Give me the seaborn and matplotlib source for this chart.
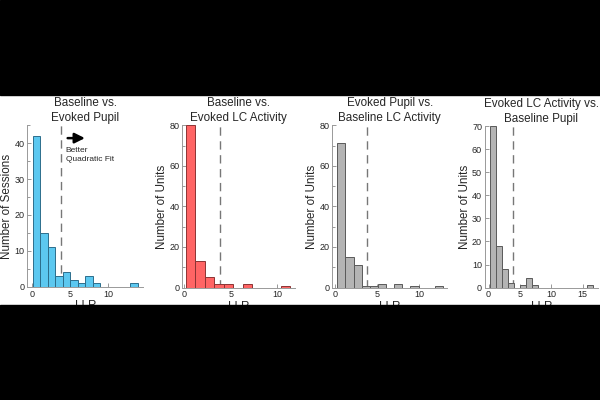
import numpy as np
import pandas as pd
import seaborn as sns
import matplotlib.pyplot as plt
from matplotlib.patches import Rectangle

sns.set_style('ticks')
plt.rcParams['font.family'] = ['Liberation Sans', 'DejaVu Sans']

# LLR histogram counts per panel (bins span lo..hi evenly)
titles = ['Baseline vs.\nEvoked Pupil', 'Baseline vs.\nEvoked LC Activity',
          'Evoked Pupil vs.\nBaseline LC Activity', 'Evoked LC Activity vs.\nBaseline Pupil']
ylabels = ['Number of Sessions', 'Number of Units', 'Number of Units', 'Number of Units']
counts_1 = [42, 15, 11, 3, 4, 2, 1, 3, 1, 0, 0, 0, 0, 1]
counts_2 = [80, 13, 5, 2, 2, 0, 2, 0, 0, 0, 1]
counts_3 = [71, 15, 11, 1, 1, 2, 0, 2, 0, 1, 0, 0, 1]
counts_4 = [70, 18, 8, 2, 0, 1, 4, 1, 0, 0, 0, 0, 0, 0, 0, 0, 1]
bin_lo = [0.05, 0.14, 0.28, 0.16]
bin_hi = [13.9, 11.4, 12.82, 16.7]
threshold = 3.84

all_counts = [counts_1, counts_2, counts_3, counts_4]
colors = ['#5cc8f0', '#ff6464', '#b4b4b4', '#b4b4b4']
edges_c = ['#2c6e8c', '#8c3434', '#5a5a5a', '#5a5a5a']
xlims = [(-0.65, 14.6), (-0.2, 11.9), (-0.3, 13.3), (-0.6, 17.4)]
ylims = [45, 80, 80, 70]
ymajor = [10, 20, 20, 10]
yminor = [5, 10, 10, 10]
xticks = [[0, 5, 10], [0, 5, 10], [0, 5, 10], [0, 5, 10, 15]]
positions = [[0.0455, 0.283, 0.193, 0.404],
             [0.304, 0.281, 0.1875, 0.406],
             [0.554, 0.281, 0.191, 0.406],
             [0.808, 0.281, 0.188, 0.404]]

fig = plt.figure(figsize=(6, 4), dpi=100)
fig.patch.set_facecolor('white')

for i in range(4):
    ax = fig.add_axes(positions[i])
    edges = np.linspace(bin_lo[i], bin_hi[i], len(all_counts[i]) + 1)
    df = pd.DataFrame({'llr': (edges[:-1] + edges[1:]) / 2, 'n': all_counts[i]})
    sns.histplot(data=df, x='llr', weights='n', bins=edges.tolist(), ax=ax,
                 color=colors[i], edgecolor=edges_c[i], alpha=1, linewidth=0.7)
    ax.axvline(threshold, color='#777777', lw=1.0, dashes=(6, 4), zorder=0)
    ax.set_xlim(*xlims[i])
    ax.set_ylim(0, ylims[i])
    ax.set_xticks(xticks[i])
    ax.set_yticks(np.arange(0, ylims[i] + 1, ymajor[i]))
    ax.set_yticks(np.arange(0, ylims[i] + 1, yminor[i]), minor=True)
    ax.tick_params(direction='in', length=3, width=0.6, labelsize=6.5, pad=2,
                   color='#888888')
    ax.tick_params(which='minor', direction='in', length=2, width=0.6, color='#888888')
    sns.despine(ax=ax)
    for s in ['left', 'bottom']:
        ax.spines[s].set_color('#999999')
        ax.spines[s].set_linewidth(0.7)
    ax.set_title(titles[i], fontsize=8.4, linespacing=1.3, pad=3)
    ax.set_ylabel(ylabels[i], fontsize=8.4, labelpad=1)
    ax.set_xlabel('LLR', fontsize=8.4, labelpad=1)
    if i == 0:
        ax.annotate('', xy=(7.3, 41.4), xytext=(4.3, 41.4),
                    arrowprops=dict(arrowstyle='-|>,head_width=0.3,head_length=0.6',
                                    color='black', lw=1.8))
        ax.text(4.4, 38.9, 'Better\nQuadratic Fit', fontsize=6, va='top',
                linespacing=1.35)

# black letterbox bands
fig.add_artist(Rectangle((0, 0), 1, 0.2375, transform=fig.transFigure,
                         color='black', zorder=10))
fig.add_artist(Rectangle((0, 0.7625), 1, 0.2375, transform=fig.transFigure,
                         color='black', zorder=10))

fig.savefig('out.png', dpi=100, facecolor='white')
